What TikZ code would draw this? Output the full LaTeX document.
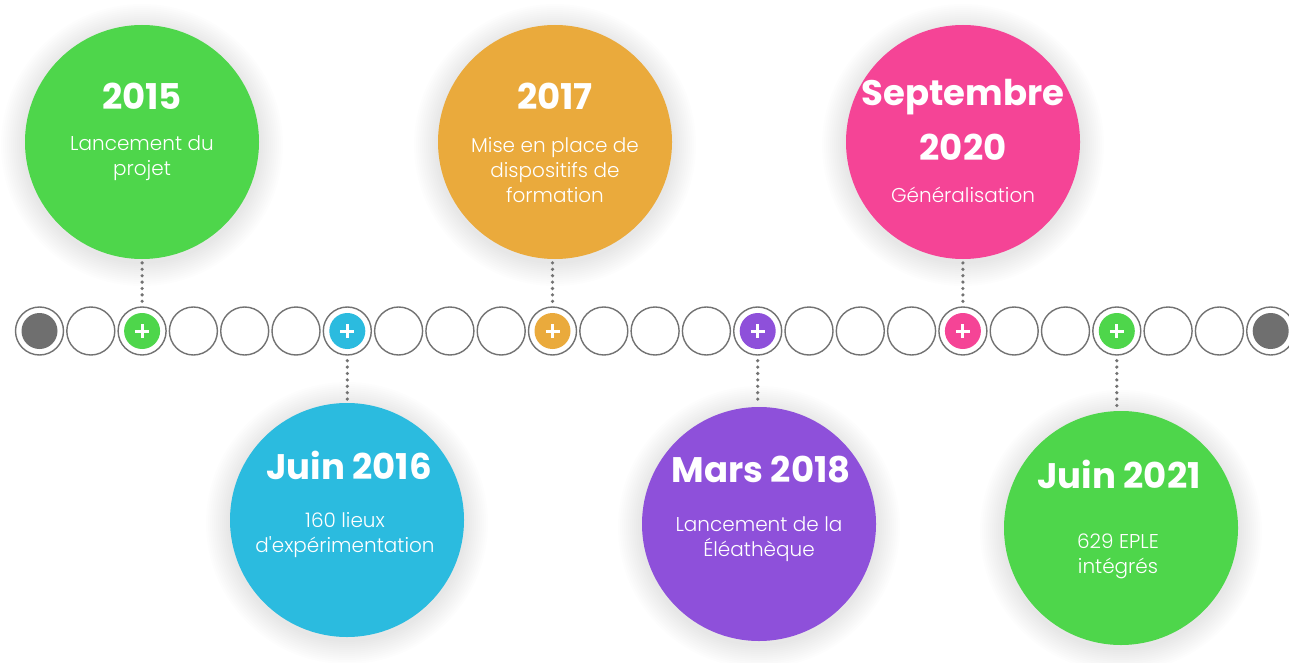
\documentclass[tikz,border=0pt]{standalone}
\usepackage{fontspec}
\setmainfont{Poppins}
\newfontfamily\lightfont{Poppins Light}
\usetikzlibrary{positioning}

\definecolor{cgreen}{HTML}{4ED64B}
\definecolor{cblue}{HTML}{2BBBDF}
\definecolor{corange}{HTML}{EAAA3C}
\definecolor{cpurple}{HTML}{8E50DA}
\definecolor{cpink}{HTML}{F54496}
\definecolor{cgrey}{HTML}{6F6F6F}
\definecolor{cline}{HTML}{727272}

\tikzset{
  slot/.style={circle,draw=cline,line width=1.4pt,fill=white,minimum size=48pt,inner sep=0pt},
  stopdot/.style={circle,fill=#1,minimum size=36pt,inner sep=0pt},
  bigdisc/.style={circle,fill=#1,minimum size=234pt,inner sep=0pt},
  yeartext/.style={text=white,align=center,font=\bfseries\fontsize{35.5}{55}\selectfont},
  infotext/.style={text=white,align=center,font=\lightfont\fontsize{20}{25}\selectfont},
  dotline/.style={draw=cline,line width=3.6pt,line cap=round,dash pattern=on 0pt off 6.4pt},
  plus/.style={white,line width=3pt}
}

\begin{document}
\begin{tikzpicture}[x=1pt,y=-1pt]
    \useasboundingbox (0,0) rectangle (1289,663);
    \clip (0,0) rectangle (1289,663);
    \fill[white] (0,0) rectangle (1289,663);
    % soft halos
    \foreach \x/\y in {142/142,555/142,963/142,347/520,759/524,1121/528}
        \foreach \k in {1,...,12}
            \fill[black,opacity=0.008] (\x,\y+3) circle ({117pt+2pt*\k});
    % big discs
    \node[bigdisc=cgreen](y2015)at(142,142){};
    \node[bigdisc=corange](y2017)at(555,142){};
    \node[bigdisc=cpink](y2020)at(963,142){};
    \node[bigdisc=cblue](y2016)at(347,520){};
    \node[bigdisc=cpurple](y2018)at(759,524){};
    \node[bigdisc=cgreen](y2021)at(1121,528){};
    % texts
    \node[yeartext](t2015)at(142,96){2015};
    \node[infotext](i2015)at(142,158){Lancement du\\projet};
    \node[yeartext](t2017)at(555,96){2017};
    \node[infotext](i2017)at(555,170){Mise en place de\\dispositifs de\\formation};
    \node[yeartext](t2020)at(963,120){Septembre\\2020};
    \node[infotext](i2020)at(963,195){Généralisation};
    \node[yeartext](t2016)at(349,465){Juin 2016};
    \node[infotext](i2016)at(345,535){160 lieux\\d'expérimentation};
    \node[yeartext](t2018)at(761,470){Mars 2018};
    \node[infotext](i2018)at(759,539){Lancement de la\\Éléathèque};
    \node[yeartext](t2021)at(1119,474){Juin 2021};
    \node[infotext](i2021)at(1118,556){629 EPLE\\intégrés};
    % timeline
    \foreach \i in {0,...,24}
        \node[slot](s\i)at({39.5+51.3*\i},331){};
    \node[stopdot=cgrey](p0)at(s0){};
    \node[stopdot=cgrey](p24)at(s24){};
    \foreach \i/\c in {2/cgreen,6/cblue,10/corange,14/cpurple,18/cpink,21/cgreen}{
        \node[stopdot=\c](p\i)at(s\i){};
        \draw[plus]([xshift=-7pt]p\i.center)--([xshift=7pt]p\i.center);
        \draw[plus]([yshift=-7pt]p\i.center)--([yshift=7pt]p\i.center);
    }
    % links
    \draw[dotline,shorten <=5pt,shorten >=3pt](s2.north)--(s2.north|-y2015.south);
    \draw[dotline,shorten <=5pt,shorten >=3pt](s10.north)--(s10.north|-y2017.south);
    \draw[dotline,shorten <=5pt,shorten >=3pt](s18.north)--(s18.north|-y2020.south);
    \draw[dotline,shorten <=5pt,shorten >=3pt](s6.south)--(s6.south|-y2016.north);
    \draw[dotline,shorten <=5pt,shorten >=3pt](s14.south)--(s14.south|-y2018.north);
    \draw[dotline,shorten <=5pt,shorten >=3pt](s21.south)--(s21.south|-y2021.north);
\end{tikzpicture}
\end{document}
